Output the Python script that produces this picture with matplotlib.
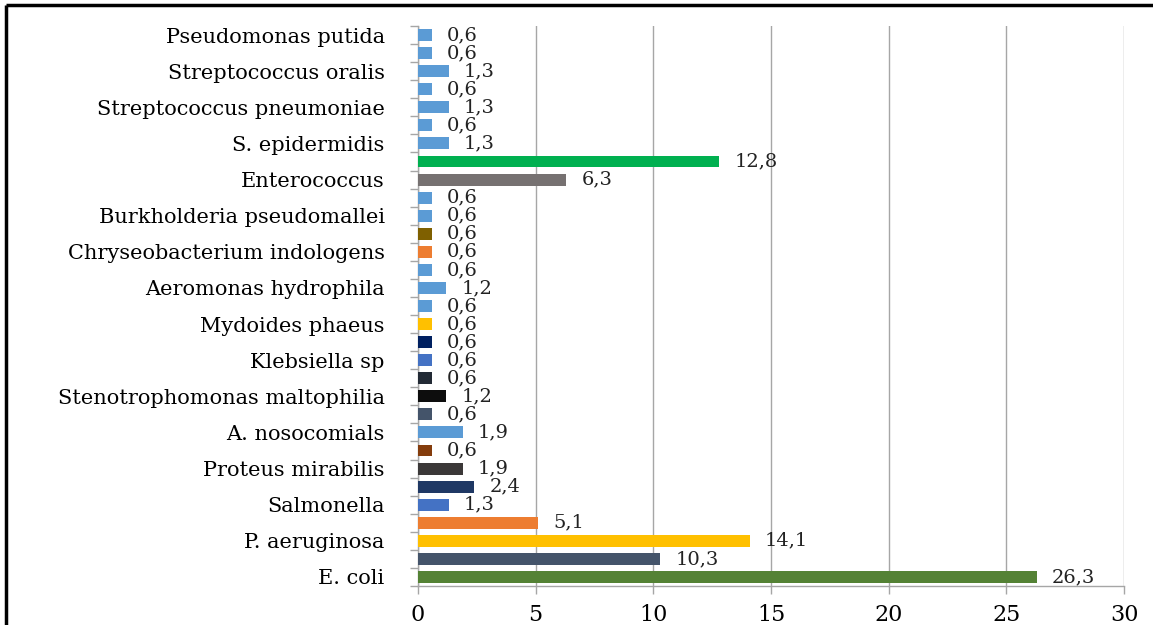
import matplotlib
matplotlib.use("Agg")
import matplotlib.pyplot as plt
from matplotlib.lines import Line2D
import numpy as np

# Data (bottom to top)
categories = ["E. coli", "", "P. aeruginosa", "", "Salmonella", "", "Proteus mirabilis", "",
              "A. nosocomials", "", "Stenotrophomonas maltophilia", "", "Klebsiella sp", "",
              "Mydoides phaeus", "", "Aeromonas hydrophila", "", "Chryseobacterium indologens", "",
              "Burkholderia pseudomallei", "", "Enterococcus", "", "S. epidermidis", "",
              "Streptococcus pneumoniae", "", "Streptococcus oralis", "", "Pseudomonas putida"]
values = [26.3, 10.3, 14.1, 5.1, 1.3, 2.4, 1.9, 0.6, 1.9, 0.6, 1.2, 0.6, 0.6, 0.6, 0.6, 0.6,
          1.2, 0.6, 0.6, 0.6, 0.6, 0.6, 6.3, 12.8, 1.3, 0.6, 1.3, 0.6, 1.3, 0.6, 0.6]
colors = ["#548235", "#44546A", "#FFC000", "#ED7D31", "#4472C4", "#1F3864", "#3B3838", "#843C0C",
          "#5B9BD5", "#44546A", "#0D0D0D", "#222A35", "#4472C4", "#002060", "#FFC000", "#5B9BD5",
          "#5B9BD5", "#5B9BD5", "#ED7D31", "#7F6000", "#5B9BD5", "#5B9BD5", "#767171", "#00B050",
          "#5B9BD5", "#5B9BD5", "#5B9BD5", "#5B9BD5", "#5B9BD5", "#5B9BD5", "#5B9BD5"]
xticks = [0, 5, 10, 15, 20, 25, 30]

FONT = "DejaVu Serif"
plt.rcParams["font.family"] = FONT

fig = plt.figure(figsize=(11.53, 6.25), dpi=100)
ax = fig.add_axes([418/1153, 1-586/625, (1124-418)/1153, (586-26)/625])

y = np.arange(len(values))
bars = ax.barh(y, values, height=0.66, color=colors, zorder=3)
ax.set_ylim(-0.5, len(values)-0.5)
ax.set_xlim(0, 30)

labels = [f"{v:.1f}".replace(".", ",") for v in values]
for bar, lab in zip(bars, labels):
    ax.annotate(lab, xy=(bar.get_width(), bar.get_y()+bar.get_height()/2),
                xytext=(15, 0), textcoords="offset pixels",
                ha="left", va="center", fontsize=14, color="#222222")

# y ticks: labels at labelled categories, tick marks at category boundaries
lab_idx = [i for i, c in enumerate(categories) if c]
ax.set_yticks(lab_idx)
ax.set_yticklabels([categories[i] for i in lab_idx], fontsize=15)
ax.tick_params(axis="y", which="major", length=0, pad=24)
ax.set_yticks(np.arange(-0.5, len(values), 1.0), minor=True)
ax.tick_params(axis="y", which="minor", length=6, color="#A6A6A6", width=1)

ax.set_xticks(xticks)
ax.set_xticklabels([str(t) for t in xticks], fontsize=16)
ax.tick_params(axis="x", length=6, color="#A6A6A6", width=1, pad=7)

ax.grid(axis="x", color="#A6A6A6", linewidth=1, zorder=0)
for s in ["top", "right"]:
    ax.spines[s].set_visible(False)
for s in ["left", "bottom"]:
    ax.spines[s].set_color("#A6A6A6")
    ax.spines[s].set_linewidth(1)

# outer frame (top and left visible)
fig.add_artist(Line2D([6/1153, 1.02], [1-5/625, 1-5/625], transform=fig.transFigure,
                      color="black", linewidth=2.5, solid_capstyle="butt"))
fig.add_artist(Line2D([6/1153, 6/1153], [1-5/625, -0.02], transform=fig.transFigure,
                      color="black", linewidth=2.5, solid_capstyle="butt"))

fig.savefig("out.png", dpi=100)
